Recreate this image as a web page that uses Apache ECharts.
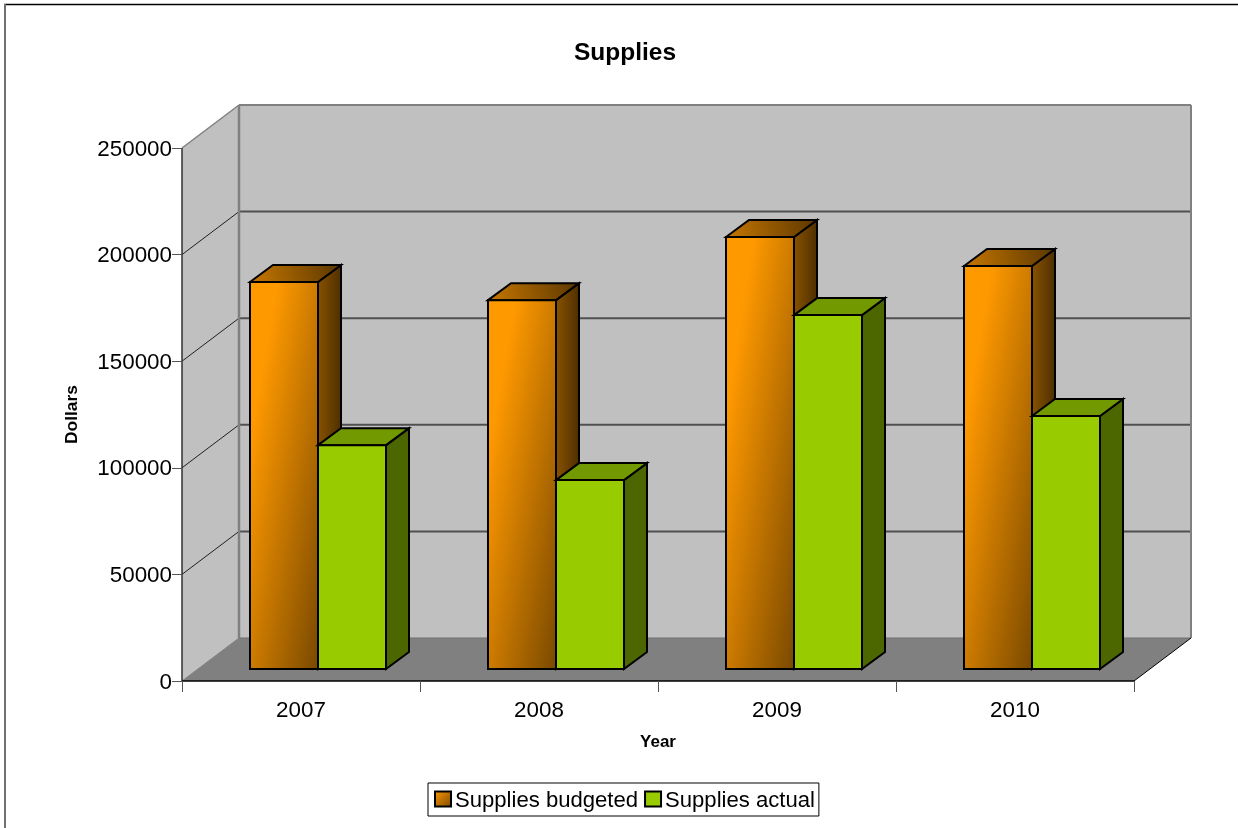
<!DOCTYPE html>
<html><head><meta charset="utf-8">
<style>html,body{margin:0;padding:0;background:#fff}#c{width:1238px;height:828px}</style>
<script src="https://cdn.jsdelivr.net/npm/echarts@6/dist/echarts.min.js"></script>
</head><body><div id="c"></div>
<script>
const years = ['2007','2008','2009','2010'];
const budgeted = [181500,173000,202600,189000];
const actual = [105000,88600,166000,118700];
const yTicks = [0,50000,100000,150000,200000,250000];
const FONT = '"Liberation Sans", Arial, sans-serif';

const WALL = [57,-43], FLOOR_LIFT = [0,-12], DEPTH = [23,-17];

function grad(x,y,x2,y2,stops){
  return {type:'linear',x,y,x2,y2,colorStops:stops.map(c=>({offset:c[0],color:c[1]}))};
}
const orangeFront = grad(0,0,1,1,[[0,'#ff9900'],[0.2,'#ff9900'],[1,'#7a4900']]);
const orangeTop = grad(0,1,1,0,[[0,'#c87800'],[1,'#5a3600']]);
const orangeSide = grad(0,0,1,0,[[0,'#8a5300'],[1,'#4c2e00']]);

function wallsRender(params, api){
  const x0 = api.coord([0,0])[0]-api.size([1,0])[0]/2;
  const x1 = x0+api.size([1,0])[0]*years.length;
  const y0 = api.coord([0,0])[1], yT = api.coord([0,250000])[1];
  const dx=WALL[0], dy=WALL[1];
  const poly=(pts,style)=>({type:'polygon',shape:{points:pts},style});
  const line=(a,b,stroke,w)=>({type:'line',shape:{x1:a[0],y1:a[1],x2:b[0],y2:b[1]},style:{stroke,lineWidth:w}});
  const kids=[
    poly([[x0+dx,yT+dy],[x1+dx,yT+dy],[x1+dx,y0+dy],[x0+dx,y0+dy]],{fill:'#c0c0c0'}),
    poly([[x0,yT],[x0+dx,yT+dy],[x0+dx,y0+dy],[x0,y0]],{fill:'#c0c0c0'}),
    poly([[x0,y0],[x0+dx,y0+dy],[x1+dx,y0+dy],[x1,y0]],{fill:'#808080'})
  ];
  yTicks.slice(1,-1).forEach(v=>{
    const y=api.coord([0,v])[1];
    kids.push(line([x0,y],[x0+dx,y+dy],'#202020',1));
    kids.push(line([x0+dx,y+dy],[x1+dx,y+dy],'#505050',2));
  });
  kids.push(line([x0,yT],[x0+dx,yT+dy],'#808080',1.5));
  kids.push(line([x0+dx,yT+dy],[x1+dx,yT+dy],'#808080',2));
  kids.push(line([x0+dx,yT+dy],[x0+dx,y0+dy],'#808080',2.5));
  kids.push(line([x1+dx,yT+dy],[x1+dx,y0+dy],'#808080',2));
  kids.push(line([x0+dx,y0+dy],[x1+dx,y0+dy],'#707070',1));
  kids.push(line([x0,y0],[x0+dx,y0+dy],'#808080',1));
  kids.push(line([x1,y0],[x1+dx,y0+dy],'#000',1));
  kids.push(line([x0,yT],[x0,y0],'#303030',1.5));
  kids.push(line([x0,y0],[x1,y0],'#000',1.5));
  return {type:'group',children:kids};
}

function barRender(loFrac,hiFrac,style){
  return function(params, api){
    const band=api.size([1,0])[0];
    const c=api.coord([api.value(0),0]);
    const t=api.coord([api.value(0),api.value(1)]);
    const xl=c[0]+band*loFrac, xr=c[0]+band*hiFrac;
    const yb=c[1]+FLOOR_LIFT[1], yt=t[1]+FLOOR_LIFT[1];
    const dx=DEPTH[0], dy=DEPTH[1];
    const w=xr-xl, h=yb-yt;
    const edge={stroke:'#000',lineWidth:2,fill:null};
    const front = style.skew
      ? {type:'rect',x:xl,y:yt,scaleX:w/100,scaleY:h/100,shape:{x:0,y:0,width:100,height:100},style:{fill:style.front}}
      : {type:'rect',shape:{x:xl,y:yt,width:w,height:h},style:{fill:style.front}};
    return {type:'group',children:[
      {type:'polygon',shape:{points:[[xr,yb],[xr+dx,yb+dy],[xr+dx,yt+dy],[xr,yt]]},style:{fill:style.side,stroke:'#000',lineWidth:2}},
      {type:'polygon',shape:{points:[[xl,yt],[xl+dx,yt+dy],[xr+dx,yt+dy],[xr,yt]]},style:{fill:style.top,stroke:'#000',lineWidth:2}},
      front,
      {type:'rect',shape:{x:xl,y:yt,width:w,height:h},style:edge}
    ]};
  };
}

const chart=echarts.init(document.getElementById('c'),null,{renderer:'canvas'});
chart.setOption({
  animation:false,
  backgroundColor:'#fff',
  title:{text:'Supplies',left:574,top:40,itemGap:0,padding:0,
    textStyle:{fontFamily:FONT,fontSize:24.5,fontWeight:'bold',color:'#000',lineHeight:26}},
  grid:{left:182,right:104,top:148,bottom:147,containLabel:false},
  xAxis:{type:'category',data:years,z:5,
    name:'Year',nameLocation:'middle',nameGap:53,
    nameTextStyle:{fontFamily:FONT,fontSize:17,fontWeight:'bold',color:'#000'},
    axisLine:{show:false},
    axisTick:{show:true,length:11,alignWithLabel:false,lineStyle:{color:'#555',width:1}},
    axisLabel:{fontFamily:FONT,fontSize:22.4,color:'#000',margin:19},
    splitLine:{show:false}},
  yAxis:{type:'value',min:0,max:250000,interval:50000,z:5,
    name:'Dollars',nameLocation:'middle',nameGap:101,nameRotate:90,
    nameTextStyle:{fontFamily:FONT,fontSize:17.4,fontWeight:'bold',color:'#000'},
    axisLine:{show:false},
    axisTick:{show:true,length:10,lineStyle:{color:'#555',width:1}},
    axisLabel:{margin:10,formatter:v=>'{a|'+v+'}',
      rich:{a:{fontFamily:FONT,fontSize:22.4,color:'#000',padding:[3,0,0,0]}}},
    splitLine:{show:false}},
  legend:{data:['Supplies budgeted','Supplies actual'],left:428,top:783,icon:'rect',
    orient:'horizontal',itemWidth:16,itemHeight:15,itemGap:6,padding:[7,4,4,6],
    backgroundColor:'#fff',borderColor:'#000',borderWidth:1,
    selectedMode:false,
    formatter:'{a|{name}}',
    textStyle:{rich:{a:{fontFamily:FONT,fontSize:22.1,color:'#000',padding:[4,0,0,-1]}}}},
  graphic:[
    {type:'line',z:-1,shape:{x1:4,y1:4.5,x2:1238,y2:4.5},style:{stroke:'#000',lineWidth:1.5}},
    {type:'line',z:-1,shape:{x1:5,y1:4,x2:5,y2:828},style:{stroke:'#707070',lineWidth:2}}
  ],
  series:[
    {name:'walls',type:'custom',renderItem:wallsRender,data:[[0,0]],z:1,silent:true,clip:false,encode:{x:0,y:1}},
    {name:'Supplies budgeted',type:'custom',z:2,clip:false,encode:{x:0,y:1},
      itemStyle:{color:grad(0,0,1,1,[[0,'#ff9900'],[1,'#7a4900']]),borderColor:'#000',borderWidth:2},
      renderItem:barRender(-51/238,17/238,{front:orangeFront,top:orangeTop,side:orangeSide,skew:true}),
      data:budgeted.map((v,i)=>[i,v])},
    {name:'Supplies actual',type:'custom',z:3,clip:false,encode:{x:0,y:1},
      itemStyle:{color:'#99cc00',borderColor:'#000',borderWidth:2},
      renderItem:barRender(17/238,85/238,{front:'#99cc00',top:'#739900',side:'#4c6600'}),
      data:actual.map((v,i)=>[i,v])}
  ]
});
</script></body></html>
